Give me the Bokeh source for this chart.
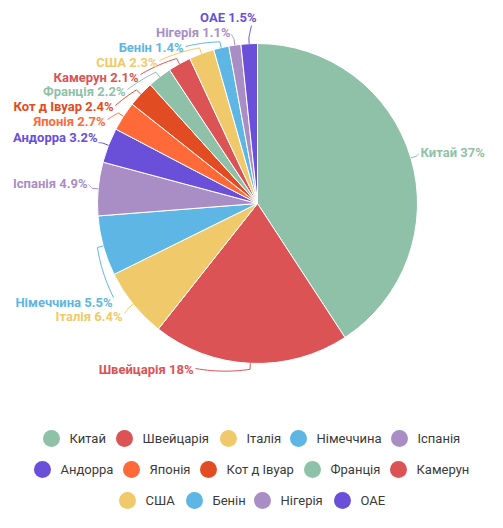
import math
from bokeh.plotting import figure
from bokeh.models import Range1d
from bokeh.embed import file_html
from bokeh.resources import INLINE
from bokeh.core.properties import value

# ---------------- data ----------------
countries = ["Китай", "Швейцарія", "Італія", "Німеччина", "Іспанія", "Андорра",
             "Японія", "Кот д Івуар", "Франція", "Камерун", "США", "Бенін",
             "Нігерія", "ОАЕ"]
shares = [37, 18, 6.4, 5.5, 4.9, 3.2, 2.7, 2.4, 2.2, 2.1, 2.3, 1.4, 1.1, 1.5]

# ---------------- styles ----------------
palette = ["#8fc1a9", "#dc5356", "#f0ca6a", "#5db6e4", "#a98ec6",
           "#6a4fd9", "#ff6a38", "#e24c22"]
colors = [palette[i % len(palette)] for i in range(len(countries))]
FONT = "Roboto"

# ---------------- layout (reference pixel coords) ----------------
W, H = 487, 512
CX, CY, R = 257, 203, 160
# label text edge x, text centre y, alignment, leader anchor x, y
label_pos = [
    (420, 152, "left", 418, 153),
    (193, 369, "right", 195, 368),
    (122, 316, "right", 124, 313),
    (112, 302, "right", 113, 297),
    (87, 183, "right", 88, 184),
    (97, 137, "right", 98, 142),
    (105, 121, "right", 107, 119),
    (113, 106, "right", 115, 105),
    (125, 91, "right", 127, 89),
    (138, 77, "right", 140, 74),
    (157, 62, "right", 159, 60),
    (183, 47, "right", 185, 46),
    (230, 32, "right", 231, 34),
    (256, 17, "right", 251, 25),
]
legend_rows_y = [438, 469, 500]
legend_x = [[51, 124, 228, 298, 399],
            [42, 131, 208, 312, 398],
            [127, 194, 262, 342]]


def Y(yref):
    return H - yref


p = figure(width=W, height=H, output_backend="svg", toolbar_location=None,
           x_range=Range1d(0, W), y_range=Range1d(0, H),
           min_border=0)
p.axis.visible = False
p.grid.visible = False
p.outline_line_color = None
p.background_fill_color = "white"
p.border_fill_color = "white"

total = sum(shares)
cum = 0.0
starts, ends, mids = [], [], []
for s in shares:
    t0 = cum / total * 360.0
    cum += s
    t1 = cum / total * 360.0
    # clockwise-from-top degrees -> bokeh anticlockwise-from-x radians
    starts.append(math.radians(90 - t1))
    ends.append(math.radians(90 - t0))
    mids.append((t0 + t1) / 2)

p.wedge(x=[CX] * len(shares), y=[Y(CY)] * len(shares), radius=R,
        start_angle=starts, end_angle=ends, fill_color=colors,
        line_color="white", line_width=1)


def pt(theta, rad):
    th = math.radians(theta)
    return CX + rad * math.sin(th), Y(CY - rad * math.cos(th))


xs, ys = [], []
for i, m in enumerate(mids):
    tx, ty, al, ax, ay = label_pos[i]
    # polar coords of the leader anchor
    ta = math.degrees(math.atan2(ax - CX, -(ay - CY))) % 360
    ra = math.hypot(ax - CX, ay - CY)
    r1 = R + 6
    lx, ly = [], []
    p0 = pt(m, R)
    lx.append(p0[0]); ly.append(p0[1])
    n = 14
    for k in range(n + 1):
        f = k / n
        th = m + (ta - m) * f
        rr = r1 + (ra - r1) * f
        q = pt(th, rr)
        lx.append(q[0]); ly.append(q[1])
    xs.append(lx)
    ys.append(ly)
p.multi_line(xs=xs, ys=ys, line_color=colors, line_width=1)

for i, name in enumerate(countries):
    tx, ty, al, ax, ay = label_pos[i]
    p.text(x=[tx], y=[Y(ty)], text=[f"{name} {shares[i]:g}%"],
           text_align=al, text_baseline="middle", text_color=colors[i],
           text_font=value(FONT), text_font_size="13px",
           text_font_style="bold")

# legend
k = 0
for row, ry in enumerate(legend_rows_y):
    for cx in legend_x[row]:
        p.scatter(x=[cx], y=[Y(ry)], size=17, marker="circle",
                  fill_color=colors[k], line_color=None)
        p.text(x=[cx + 18], y=[Y(ry)], text=[countries[k]],
               text_align="left", text_baseline="middle",
               text_color="#3a3a3a", text_font=value(FONT),
               text_font_size="13px")
        k += 1

open("out.html", "w").write(file_html(p, INLINE))
